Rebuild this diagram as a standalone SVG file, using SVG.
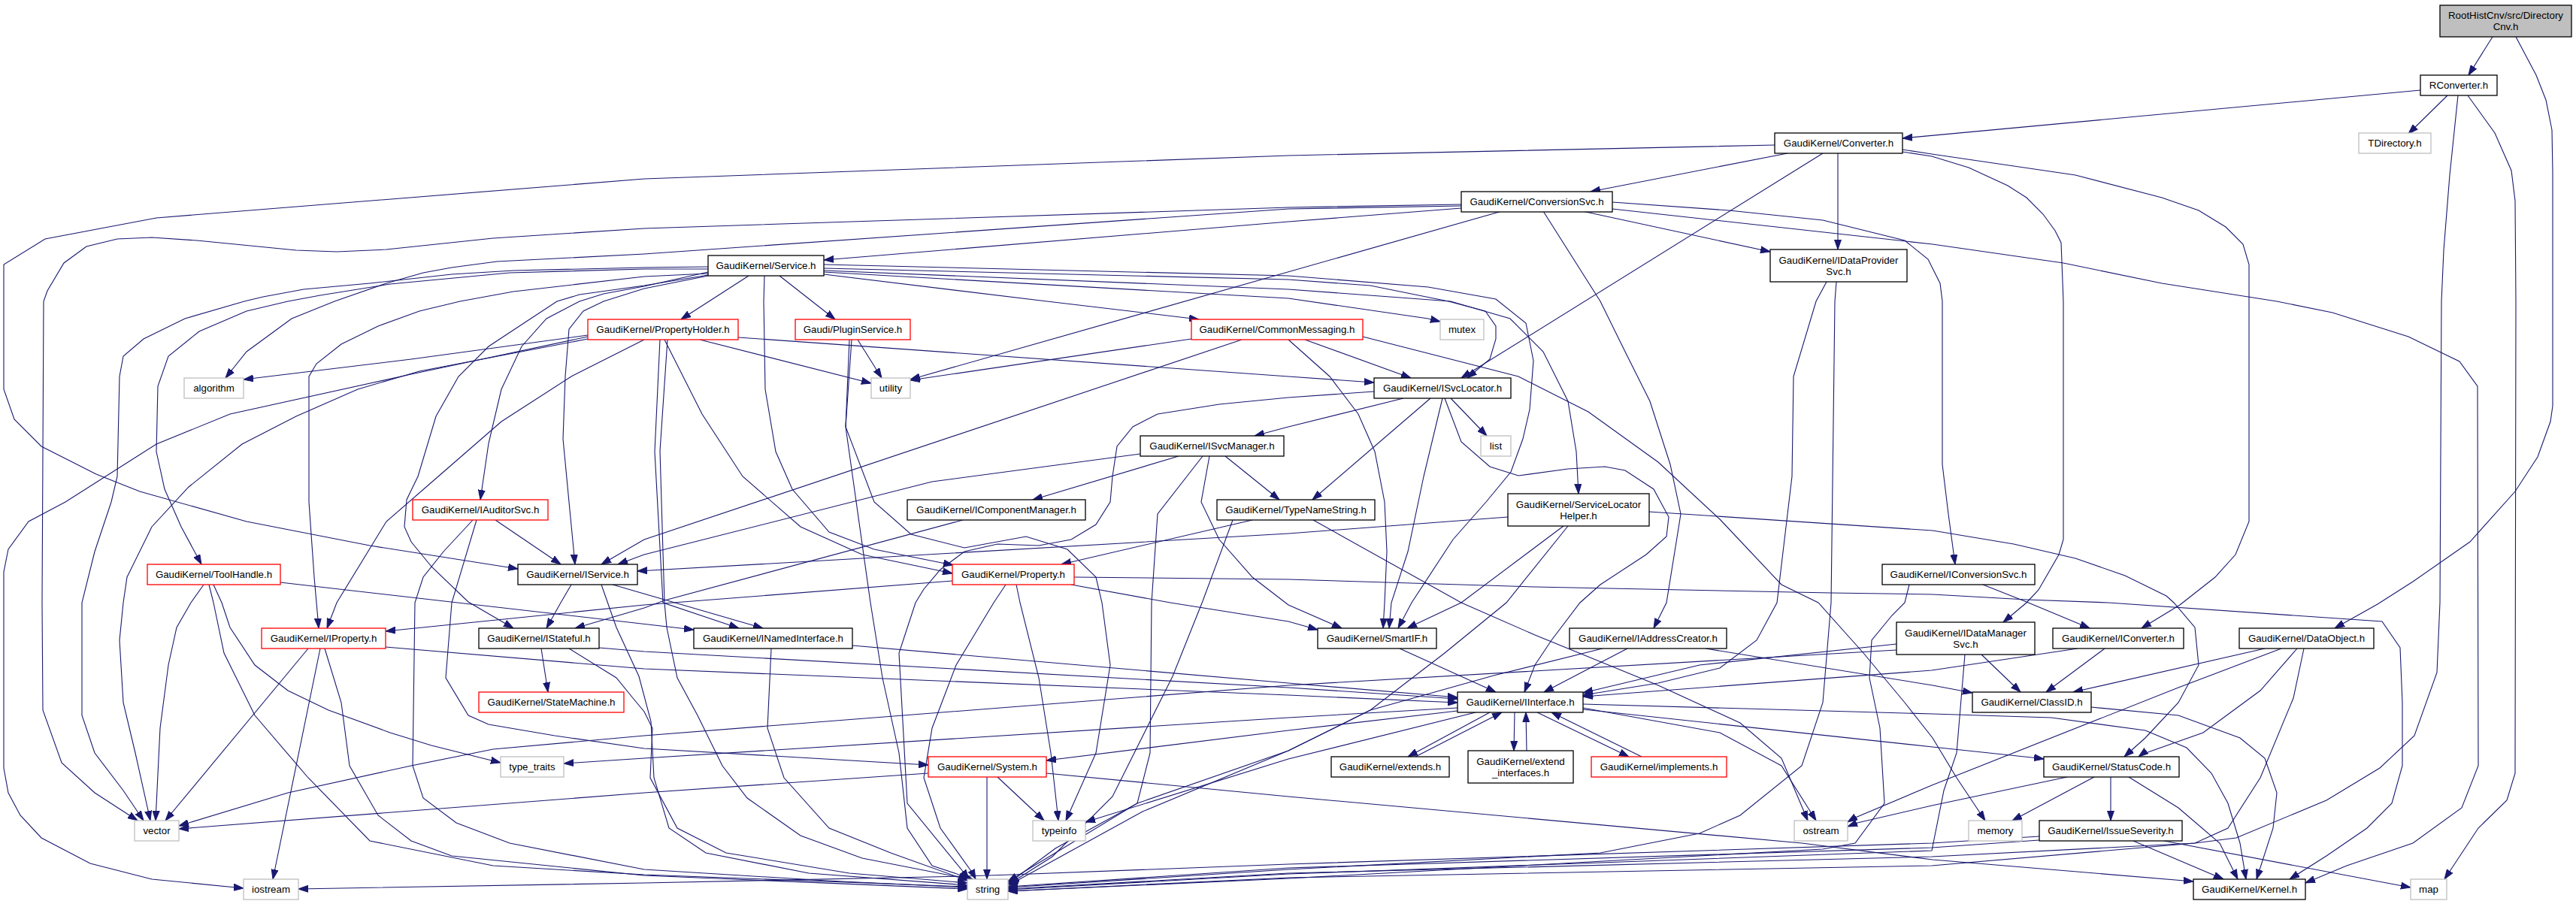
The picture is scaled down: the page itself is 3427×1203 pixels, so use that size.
<svg xmlns="http://www.w3.org/2000/svg" width="3427" height="1203" viewBox="0 0 3427 1203">
<style>
.e{fill:none;stroke:#191970;stroke-width:1.1;marker-end:url(#a)}
.b rect{fill:#fff;stroke:#000;stroke-width:1.3}
.r rect{fill:#fff;stroke:#ff0000;stroke-width:1.3}
.s rect{fill:#fff;stroke:#bfbfbf;stroke-width:1.3}
.root rect{fill:#bfbfbf;stroke:#000;stroke-width:1.3}
text{font-family:"Liberation Sans",Arial,Helvetica,sans-serif;font-size:13.3px;fill:#000;text-anchor:middle}
</style>
<defs>
<marker id="a" markerUnits="userSpaceOnUse" markerWidth="14" markerHeight="10" refX="13" refY="5" orient="auto" viewBox="0 0 14 10"><path d="M0,0.5L13,5L0,9.5z" fill="#191970" stroke="#191970" stroke-width="1"/></marker>
</defs>
<rect width="3427" height="1203" fill="#fff"/>
<g id="edges">
<path class="e" d="M3316,49 L3284,100"/>
<path class="e" d="M3347,49 L3374,100 L3387,133 L3395,173 L3396,230 L3396,540 L3393,561 L3376,608 L3346,654 L3286,721 L3210,774 L3163,804 L3106,836"/>
<path class="e" d="M3220,120 L2531,184"/>
<path class="e" d="M3256,127 L3204,178"/>
<path class="e" d="M3270,127 L3259,233 L3251,333 L3248,401 L3246,802 L3242,895 L3212,979 L3166,1022 L3095,1065 L2975,1115 L2920,1122 L2570,1152 L1714,1168 L1341,1186"/>
<path class="e" d="M3283,127 L3319,177 L3341,227 L3346,267 L3347,401 L3346,1029 L3335,1065 L3297,1102 L3264,1152 L3252,1170"/>
<path class="e" d="M2361,193 L1714,207 L857,238 L208,290 L60,318 L5,352 L5,518 L19,558 L55,594 L128,631 L186,654 L328,694 L492,726 L689,757"/>
<path class="e" d="M2378,204 L2116,255"/>
<path class="e" d="M2445,204 L2445,332"/>
<path class="e" d="M2425,204 L1944,503"/>
<path class="e" d="M2531,199 L2570,205 L2761,233 L2876,263 L2925,280 L2961,302 L2984,325 L2992,352 L2992,694 L2974,738 L2947,768 L2900,805 L2849,836"/>
<path class="e" d="M2531,202 L2570,208 L2619,223 L2671,247 L2696,263 L2718,285 L2734,307 L2742,323 L2745,401 L2745,718 L2739,738 L2712,785 L2696,802 L2665,828"/>
<path class="e" d="M1944,277 L1714,295 L1096,346"/>
<path class="e" d="M1944,272 L1714,276 L857,304 L656,317 L514,332 L448,335 L394,333 L262,320 L202,316 L156,318 L115,328 L85,350 L63,387 L58,401 L56,802 L57,945 L82,1015 L126,1055 L183,1092"/>
<path class="e" d="M1944,274 L1714,278 L857,338 L661,348 L601,356 L563,363 L514,377 L445,401 L388,424 L328,468 L300,503"/>
<path class="e" d="M1998,281 L1211,505"/>
<path class="e" d="M2053,281 L2129,401 L2162,468 L2195,534 L2222,618 L2236,684 L2228,734 L2217,802 L2200,836"/>
<path class="e" d="M2105,281 L2355,335"/>
<path class="e" d="M2145,269 L2300,280 L2425,293 L2534,320 L2565,345 L2581,377 L2584,401 L2584,618 L2592,684 L2601,751"/>
<path class="e" d="M2145,278 L2571,325 L2745,350 L2876,377 L3029,401 L3103,416 L3204,448 L3272,481 L3296,514 L3297,1019 L3275,1075 L3210,1122 L3122,1152 L3067,1175"/>
<path class="e" d="M2430,375 L2416,401 L2386,501 L2384,634 L2364,802 L2337,852 L2288,889 L2206,909 L2106,925"/>
<path class="e" d="M2443,375 L2441,401 L2436,802 L2425,935 L2397,1019 L2315,1085 L2261,1109 L2129,1135 L1714,1157 L1341,1181"/>
<path class="e" d="M996,367 L906,425"/>
<path class="e" d="M1017,367 L1016,401 L1018,518 L1032,601 L1054,651 L1103,708 L1163,731 L1268,752"/>
<path class="e" d="M1037,367 L1111,425"/>
<path class="e" d="M1096,365 L1393,401 L1595,425"/>
<path class="e" d="M1096,362 L1714,397 L1900,424 L1916,428"/>
<path class="e" d="M1096,357 L1714,372 L1823,380 L1927,401 L1976,414 L1990,434 L1990,451 L1982,478 L1952,503"/>
<path class="e" d="M1096,360 L1714,385 L1930,401 L2009,424 L2053,468 L2086,534 L2097,601 L2100,657"/>
<path class="e" d="M1096,352 L1714,367 L1900,382 L1990,398 L2030,430 L2040,480 L2035,545 L2026,584 L2010,628 L1977,668 L1933,718 L1878,802 L1860,836"/>
<path class="e" d="M942,355 L857,356 L683,360 L601,365 L492,377 L404,385 L350,395 L325,401 L246,424 L191,451 L164,474 L159,501 L156,634 L148,668 L126,734 L109,802 L109,952 L126,1002 L164,1052 L191,1092"/>
<path class="e" d="M942,358 L857,358 L678,363 L519,378 L426,393 L383,401 L328,414 L265,441 L224,474 L210,514 L208,601 L219,651 L241,701 L268,751"/>
<path class="e" d="M942,364 L857,368 L683,388 L612,401 L558,414 L503,434 L454,458 L421,484 L411,501 L411,668 L418,768 L421,802 L424,836"/>
<path class="e" d="M942,366 L857,380 L771,392 L741,401 L700,428 L650,461 L610,501 L580,554 L556,634 L541,665 L538,701 L547,721 L574,754 L623,801 L683,836"/>
<path class="e" d="M942,362 L857,381 L803,391 L771,401 L727,424 L694,461 L667,518 L650,590 L639,665"/>
<path class="e" d="M942,367 L857,384 L803,401 L776,414 L757,438 L752,501 L749,584 L757,668 L765,751"/>
<path class="e" d="M782,446 L547,478 L324,505"/>
<path class="e" d="M782,448 L547,498 L306,551 L208,591 L87,668 L38,694 L11,731 L5,761 L5,1022 L11,1055 L27,1085 L55,1115 L120,1149 L202,1170 L324,1182"/>
<path class="e" d="M782,451 L558,494 L476,518 L394,554 L322,591 L251,648 L202,701 L169,768 L164,802 L159,852 L164,935 L180,1002 L200,1092"/>
<path class="e" d="M857,452 L760,501 L667,561 L590,628 L514,694 L448,802 L435,836"/>
<path class="e" d="M931,452 L1159,510"/>
<path class="e" d="M982,449 L1714,501 L1828,509"/>
<path class="e" d="M884,452 L934,551 L988,634 L1065,701 L1147,738 L1267,763"/>
<path class="e" d="M878,452 L871,601 L882,802 L983,836"/>
<path class="e" d="M888,452 L878,600 L884,802 L887,835 L901,902 L928,952 L961,1019 L994,1062 L1065,1112 L1147,1142 L1290,1170"/>
<path class="e" d="M1141,452 L1173,503"/>
<path class="e" d="M1130,452 L1125,568 L1158,802 L1174,902 L1196,1002 L1207,1102 L1240,1152 L1294,1170"/>
<path class="e" d="M1133,452 L1125,568 L1163,668 L1212,711 L1283,729 L1365,714 L1420,731 L1458,768 L1466,802 L1477,885 L1458,1002 L1418,1092"/>
<path class="e" d="M1736,452 L1877,503"/>
<path class="e" d="M1714,452 L1769,501 L1807,551 L1829,601 L1842,668 L1845,734 L1842,802 L1840,836"/>
<path class="e" d="M1585,451 L1211,506"/>
<path class="e" d="M1652,452 L857,718 L800,751"/>
<path class="e" d="M1813,448 L2020,501 L2113,548 L2206,615 L2288,691 L2370,778 L2419,802 L2479,869 L2534,935 L2571,982 L2603,1035 L2641,1092"/>
<path class="e" d="M1867,530 L1714,568 L1669,580"/>
<path class="e" d="M1903,530 L1746,665"/>
<path class="e" d="M1919,530 L1894,634 L1873,734 L1851,802 L1848,836"/>
<path class="e" d="M1930,530 L1978,580"/>
<path class="e" d="M1922,530 L1944,588 L1982,621 L2020,633 L2086,624 L2135,621 L2162,626 L2200,651 L2220,688 L2217,714 L2190,738 L2129,778 L2102,802 L2064,852 L2042,885 L2028,921"/>
<path class="e" d="M1828,521 L1714,529 L1622,538 L1540,551 L1507,568 L1486,594 L1480,634 L1477,668 L1458,698 L1425,718 L1382,726 L1327,724 L1283,734 L1251,758 L1229,784 L1218,802 L1196,869 L1207,1069 L1283,1162 L1289,1170"/>
<path class="e" d="M1568,607 L1374,665"/>
<path class="e" d="M1630,607 L1702,665"/>
<path class="e" d="M1517,604 L1240,641 L857,738 L822,751"/>
<path class="e" d="M1609,607 L1598,668 L1622,718 L1666,768 L1714,805 L1785,836"/>
<path class="e" d="M1600,607 L1540,684 L1532,802 L1530,1002 L1513,1069 L1404,1135 L1341,1173"/>
<path class="e" d="M1281,692 L884,799 L857,809 L765,836"/>
<path class="e" d="M1666,692 L1412,751"/>
<path class="e" d="M1747,692 L1944,802 L2042,845 L2206,912 L2315,962 L2370,1009 L2405,1092"/>
<path class="e" d="M1640,692 L1600,800 L1560,900 L1480,1060 L1400,1140 L1343,1176"/>
<path class="e" d="M2006,688 L1714,710 L1130,744 L848,760"/>
<path class="e" d="M2080,700 L1944,802 L1872,836"/>
<path class="e" d="M2086,700 L2004,802 L1922,869 L1823,945 L1714,999 L1520,1080 L1420,1135 L1342,1178"/>
<path class="e" d="M2194,681 L2571,706 L2679,724 L2761,743 L2827,766 L2882,793 L2892,802 L2920,835 L2925,885 L2898,935 L2854,982 L2826,1007"/>
<path class="e" d="M659,692 L746,751"/>
<path class="e" d="M629,692 L590,734 L563,768 L552,802 L549,1019 L563,1062 L607,1095 L678,1122 L857,1157 L1100,1172 L1287,1181"/>
<path class="e" d="M634,692 L601,802 L593,902 L623,952 L650,964 L738,979 L857,996 L1235,1018"/>
<path class="e" d="M373,775 L923,838"/>
<path class="e" d="M284,778 L295,802 L306,835 L339,885 L383,919 L437,945 L519,975 L574,992 L666,1015"/>
<path class="e" d="M271,778 L254,802 L235,835 L224,885 L213,969 L207,1092"/>
<path class="e" d="M278,778 L284,802 L298,869 L339,952 L410,1035 L492,1119 L656,1152 L857,1164 L1287,1180"/>
<path class="e" d="M760,778 L746,802 L727,836"/>
<path class="e" d="M815,778 L1015,836"/>
<path class="e" d="M800,778 L820,835 L850,900 L866,960 L870,1035 L890,1102 L939,1135 L1076,1162 L1287,1178"/>
<path class="e" d="M1267,773 L857,805 L513,840"/>
<path class="e" d="M1425,778 L1557,802 L1714,827 L1753,838"/>
<path class="e" d="M1429,768 L1714,771 L2042,781 L2436,789 L2571,791 L2696,798 L2805,802 L3169,827 L3193,862 L3196,935 L3196,1019 L3182,1069 L3149,1102 L3095,1139 L3046,1170"/>
<path class="e" d="M1338,778 L1322,802 L1272,885 L1240,969 L1229,1035 L1251,1102 L1294,1162 L1298,1170"/>
<path class="e" d="M1352,778 L1357,802 L1382,902 L1398,1002 L1408,1092"/>
<path class="e" d="M513,861 L857,890 L1714,925 L1939,935"/>
<path class="e" d="M410,863 L220,1092"/>
<path class="e" d="M426,863 L363,1170"/>
<path class="e" d="M432,863 L454,935 L465,1019 L503,1085 L547,1119 L601,1139 L857,1165 L1287,1183"/>
<path class="e" d="M720,863 L729,921"/>
<path class="e" d="M797,862 L857,867 L1714,915 L1939,930"/>
<path class="e" d="M757,863 L820,902 L842,929 L857,947 L868,969 L865,1035 L901,1102 L966,1135 L1130,1162 L1287,1175"/>
<path class="e" d="M1134,859 L1714,909 L1939,928"/>
<path class="e" d="M1026,863 L1021,969 L1043,1035 L1103,1102 L1185,1135 L1288,1172"/>
<path class="e" d="M1862,863 L1990,921"/>
<path class="e" d="M2165,863 L2054,921"/>
<path class="e" d="M2269,863 L2571,912 L2624,922"/>
<path class="e" d="M2132,863 L1987,899 L1823,945 L1714,999 L1513,1069 L1404,1129 L1341,1176"/>
<path class="e" d="M2523,857 L2261,885 L2106,922"/>
<path class="e" d="M2523,865 L1714,912 L857,979 L656,997 L547,1019 L383,1055 L238,1099"/>
<path class="e" d="M2636,871 L2688,921"/>
<path class="e" d="M2614,871 L2603,1002 L2586,1052 L2570,1132 L1714,1163 L1341,1184"/>
<path class="e" d="M2764,863 L2570,892 L2106,927"/>
<path class="e" d="M2800,863 L2722,921"/>
<path class="e" d="M2638,778 L2696,801 L2780,836"/>
<path class="e" d="M2540,778 L2534,802 L2517,819 L2490,852 L2487,902 L2501,969 L2507,1069 L2468,1122 L2425,1130 L1714,1169 L1341,1186"/>
<path class="e" d="M3013,863 L2758,921"/>
<path class="e" d="M3035,863 L2898,915 L2570,1045 L2466,1089 L2458,1094"/>
<path class="e" d="M3056,863 L3007,919 L2931,975 L2849,1004 L2845,1007"/>
<path class="e" d="M3065,863 L3051,929 L3007,1035 L2964,1102 L2920,1122 L2570,1140 L1714,1162 L1341,1183"/>
<path class="e" d="M2782,941 L2898,952 L2980,982 L3013,1009 L3029,1055 L3024,1102 L3002,1170"/>
<path class="e" d="M1982,948 L1873,1007"/>
<path class="e" d="M2015,948 L2014,999"/>
<path class="e" d="M2045,948 L2167,1007"/>
<path class="e" d="M1939,942 L1714,955 L857,1009 L750,1016"/>
<path class="e" d="M1939,946 L1714,972 L1392,1012"/>
<path class="e" d="M1963,948 L1714,1010 L1444,1094"/>
<path class="e" d="M2106,942 L2288,975 L2370,1019 L2416,1092"/>
<path class="e" d="M2106,944 L2571,994 L2712,1009 L2719,1010"/>
<path class="e" d="M2106,937 L2571,950 L2729,955 L2854,972 L2909,995 L2942,1029 L2964,1069 L2980,1122 L2988,1170"/>
<path class="e" d="M1883,1007 L1998,948"/>
<path class="e" d="M2031,999 L2030,948"/>
<path class="e" d="M2184,1007 L2064,948"/>
<path class="e" d="M1235,1029 L857,1055 L238,1103"/>
<path class="e" d="M1327,1034 L1389,1092"/>
<path class="e" d="M1313,1034 L1313,1170"/>
<path class="e" d="M1392,1029 L1714,1060 L2397,1122 L2571,1144 L2918,1173"/>
<path class="e" d="M2750,1034 L2570,1072 L2471,1095 L2458,1100"/>
<path class="e" d="M2786,1034 L2677,1092"/>
<path class="e" d="M2808,1034 L2808,1092"/>
<path class="e" d="M2832,1034 L2898,1075 L2953,1122 L2977,1170"/>
<path class="e" d="M2838,1119 L2958,1170"/>
<path class="e" d="M2879,1119 L3207,1181"/>
<path class="e" d="M2713,1118 L2570,1128 L1714,1155 L1341,1180"/>
<path class="e" d="M2713,1113 L2570,1122 L1714,1150 L1345,1164 L1283,1166 L857,1175 L397,1183"/>
</g>
<g id="n_DirectoryCnv" class="root"><rect x="3246" y="7" width="175" height="42"/><text x="3333.5" y="25"><tspan x="3333.5" y="25">RootHistCnv/src/Directory</tspan><tspan x="3333.5" y="40">Cnv.h</tspan></text></g>
<g id="n_RConverter" class="b"><rect x="3220" y="100" width="102" height="27"/><text x="3271" y="118.2">RConverter.h</text></g>
<g id="n_TDirectory" class="s"><rect x="3138" y="177" width="96" height="27"/><text x="3186" y="195.2">TDirectory.h</text></g>
<g id="n_Converter" class="b"><rect x="2361" y="177" width="170" height="27"/><text x="2446" y="195.2">GaudiKernel/Converter.h</text></g>
<g id="n_ConversionSvc" class="b"><rect x="1944" y="255" width="201" height="27"/><text x="2044.5" y="273.2">GaudiKernel/ConversionSvc.h</text></g>
<g id="n_IDataProviderSvc" class="b"><rect x="2355" y="332" width="182" height="43"/><text x="2446" y="350.7"><tspan x="2446" y="350.7">GaudiKernel/IDataProvider</tspan><tspan x="2446" y="365.7">Svc.h</tspan></text></g>
<g id="n_Service" class="b"><rect x="942" y="340" width="154" height="27"/><text x="1019" y="358.2">GaudiKernel/Service.h</text></g>
<g id="n_PropertyHolder" class="r"><rect x="782" y="425" width="200" height="27"/><text x="882" y="443.2">GaudiKernel/PropertyHolder.h</text></g>
<g id="n_PluginService" class="r"><rect x="1058" y="425" width="153" height="27"/><text x="1134.5" y="443.2">Gaudi/PluginService.h</text></g>
<g id="n_CommonMessaging" class="r"><rect x="1585" y="425" width="228" height="27"/><text x="1699" y="443.2">GaudiKernel/CommonMessaging.h</text></g>
<g id="n_mutex" class="s"><rect x="1916" y="425" width="58" height="27"/><text x="1945" y="443.2">mutex</text></g>
<g id="n_algorithm" class="s"><rect x="245" y="503" width="79" height="27"/><text x="284.5" y="521.2">algorithm</text></g>
<g id="n_utility" class="s"><rect x="1159" y="503" width="52" height="27"/><text x="1185" y="521.2">utility</text></g>
<g id="n_ISvcLocator" class="b"><rect x="1828" y="503" width="182" height="27"/><text x="1919" y="521.2">GaudiKernel/ISvcLocator.h</text></g>
<g id="n_list" class="s"><rect x="1970" y="580" width="40" height="27"/><text x="1990" y="598.2">list</text></g>
<g id="n_ISvcManager" class="b"><rect x="1517" y="580" width="191" height="27"/><text x="1612.5" y="598.2">GaudiKernel/ISvcManager.h</text></g>
<g id="n_IComponentManager" class="b"><rect x="1207" y="665" width="237" height="27"/><text x="1325.5" y="683.2">GaudiKernel/IComponentManager.h</text></g>
<g id="n_TypeNameString" class="b"><rect x="1619" y="665" width="210" height="27"/><text x="1724" y="683.2">GaudiKernel/TypeNameString.h</text></g>
<g id="n_ServiceLocatorHelper" class="b"><rect x="2006" y="657" width="188" height="43"/><text x="2100" y="675.7"><tspan x="2100" y="675.7">GaudiKernel/ServiceLocator</tspan><tspan x="2100" y="690.7">Helper.h</tspan></text></g>
<g id="n_IAuditorSvc" class="r"><rect x="549" y="665" width="180" height="27"/><text x="639" y="683.2">GaudiKernel/IAuditorSvc.h</text></g>
<g id="n_ToolHandle" class="r"><rect x="196" y="751" width="177" height="27"/><text x="284.5" y="769.2">GaudiKernel/ToolHandle.h</text></g>
<g id="n_IService" class="b"><rect x="689" y="751" width="159" height="27"/><text x="768.5" y="769.2">GaudiKernel/IService.h</text></g>
<g id="n_Property" class="r"><rect x="1267" y="751" width="162" height="27"/><text x="1348" y="769.2">GaudiKernel/Property.h</text></g>
<g id="n_IConversionSvc" class="b"><rect x="2504" y="751" width="203" height="27"/><text x="2605.5" y="769.2">GaudiKernel/IConversionSvc.h</text></g>
<g id="n_IProperty" class="r"><rect x="348" y="836" width="165" height="27"/><text x="430.5" y="854.2">GaudiKernel/IProperty.h</text></g>
<g id="n_IStateful" class="b"><rect x="637" y="836" width="160" height="27"/><text x="717" y="854.2">GaudiKernel/IStateful.h</text></g>
<g id="n_INamedInterface" class="b"><rect x="923" y="836" width="211" height="27"/><text x="1028.5" y="854.2">GaudiKernel/INamedInterface.h</text></g>
<g id="n_SmartIF" class="b"><rect x="1753" y="836" width="158" height="27"/><text x="1832" y="854.2">GaudiKernel/SmartIF.h</text></g>
<g id="n_IAddressCreator" class="b"><rect x="2088" y="836" width="209" height="27"/><text x="2192.5" y="854.2">GaudiKernel/IAddressCreator.h</text></g>
<g id="n_IDataManagerSvc" class="b"><rect x="2523" y="828" width="184" height="43"/><text x="2615" y="846.7"><tspan x="2615" y="846.7">GaudiKernel/IDataManager</tspan><tspan x="2615" y="861.7">Svc.h</tspan></text></g>
<g id="n_IConverter" class="b"><rect x="2731" y="836" width="174" height="27"/><text x="2818" y="854.2">GaudiKernel/IConverter.h</text></g>
<g id="n_DataObject" class="b"><rect x="2979" y="836" width="179" height="27"/><text x="3068.5" y="854.2">GaudiKernel/DataObject.h</text></g>
<g id="n_StateMachine" class="r"><rect x="637" y="921" width="193" height="27"/><text x="733.5" y="939.2">GaudiKernel/StateMachine.h</text></g>
<g id="n_IInterface" class="b"><rect x="1939" y="921" width="167" height="27"/><text x="2022.5" y="939.2">GaudiKernel/IInterface.h</text></g>
<g id="n_ClassID" class="b"><rect x="2624" y="921" width="158" height="27"/><text x="2703" y="939.2">GaudiKernel/ClassID.h</text></g>
<g id="n_type_traits" class="s"><rect x="666" y="1007" width="84" height="27"/><text x="708" y="1025.2">type_traits</text></g>
<g id="n_System" class="r"><rect x="1235" y="1007" width="157" height="27"/><text x="1313.5" y="1025.2">GaudiKernel/System.h</text></g>
<g id="n_extends" class="b"><rect x="1771" y="1007" width="157" height="27"/><text x="1849.5" y="1025.2">GaudiKernel/extends.h</text></g>
<g id="n_extend_interfaces" class="b"><rect x="1953" y="999" width="140" height="43"/><text x="2023" y="1017.7"><tspan x="2023" y="1017.7">GaudiKernel/extend</tspan><tspan x="2023" y="1032.7">_interfaces.h</tspan></text></g>
<g id="n_implements" class="r"><rect x="2117" y="1007" width="180" height="27"/><text x="2207" y="1025.2">GaudiKernel/implements.h</text></g>
<g id="n_StatusCode" class="b"><rect x="2719" y="1007" width="180" height="27"/><text x="2809" y="1025.2">GaudiKernel/StatusCode.h</text></g>
<g id="n_vector" class="s"><rect x="179" y="1092" width="59" height="27"/><text x="208.5" y="1110.2">vector</text></g>
<g id="n_typeinfo" class="s"><rect x="1374" y="1092" width="70" height="27"/><text x="1409" y="1110.2">typeinfo</text></g>
<g id="n_ostream" class="s"><rect x="2387" y="1092" width="71" height="27"/><text x="2422.5" y="1110.2">ostream</text></g>
<g id="n_memory" class="s"><rect x="2619" y="1092" width="71" height="27"/><text x="2654.5" y="1110.2">memory</text></g>
<g id="n_IssueSeverity" class="b"><rect x="2713" y="1092" width="190" height="27"/><text x="2808" y="1110.2">GaudiKernel/IssueSeverity.h</text></g>
<g id="n_iostream" class="s"><rect x="324" y="1170" width="73" height="27"/><text x="360.5" y="1188.2">iostream</text></g>
<g id="n_string" class="s"><rect x="1287" y="1170" width="54" height="27"/><text x="1314" y="1188.2">string</text></g>
<g id="n_Kernel" class="b"><rect x="2918" y="1170" width="149" height="27"/><text x="2992.5" y="1188.2">GaudiKernel/Kernel.h</text></g>
<g id="n_map" class="s"><rect x="3207" y="1170" width="48" height="27"/><text x="3231" y="1188.2">map</text></g>
</svg>
